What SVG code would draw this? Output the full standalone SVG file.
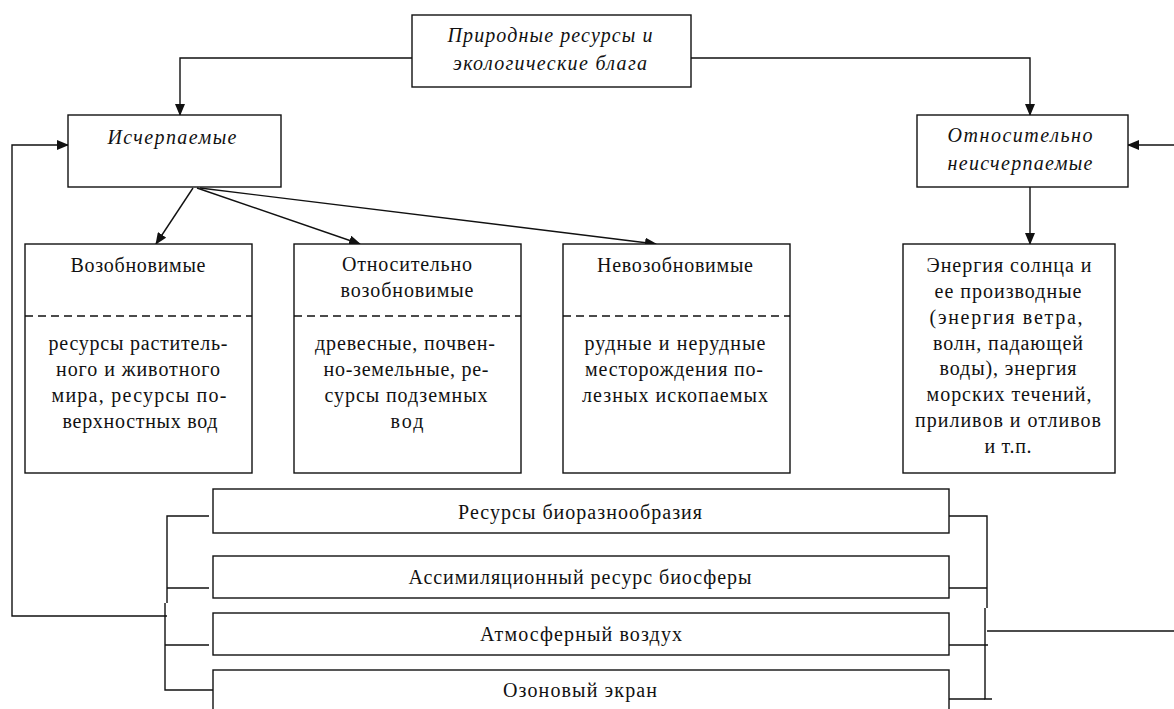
<svg xmlns="http://www.w3.org/2000/svg" width="1174" height="709" viewBox="0 0 1174 709">
<defs>
<marker id="arr" markerWidth="12" markerHeight="10" refX="11" refY="5" orient="auto" markerUnits="userSpaceOnUse">
<path d="M0,0 L12,5 L0,10 Z" fill="#111"/>
</marker>
<style>
.box{fill:#fff;stroke:#111;stroke-width:1.4}
.ln{fill:none;stroke:#111;stroke-width:1.4}
.dash{stroke:#111;stroke-width:1.5;stroke-dasharray:8 5}
.t{font-family:"Liberation Serif","DejaVu Serif",serif;font-size:20px;fill:#111;text-anchor:middle}
.i{font-style:italic}
</style>
</defs>
<rect width="1174" height="709" fill="#fff"/>

<g id="connectors">
<polyline class="ln" points="412,58 180,58 180,115" marker-end="url(#arr)"/>
<polyline class="ln" points="691,58 1030,58 1030,115" marker-end="url(#arr)"/>
<line class="ln" x1="193" y1="188" x2="156" y2="244" marker-end="url(#arr)"/>
<line class="ln" x1="197" y1="188" x2="360" y2="244" marker-end="url(#arr)"/>
<line class="ln" x1="200" y1="188" x2="656" y2="244" marker-end="url(#arr)"/>
<line class="ln" x1="1030" y1="187" x2="1030" y2="244" marker-end="url(#arr)"/>
<line class="ln" x1="1174" y1="145" x2="1128" y2="145" marker-end="url(#arr)"/>
<polyline class="ln" points="167,616 12,616 12,145 68,145" marker-end="url(#arr)"/>
<polyline class="ln" points="209,516 167,516 167,603"/>
<line class="ln" x1="167" y1="588" x2="209" y2="588"/>
<polyline class="ln" points="165,603 165,690 213,690"/>
<line class="ln" x1="165" y1="645" x2="209" y2="645"/>
<polyline class="ln" points="946,516 987,516 987,608"/>
<line class="ln" x1="946" y1="588" x2="987" y2="588"/>
<polyline class="ln" points="985,608 985,699 992,699"/>
<line class="ln" x1="946" y1="645" x2="988" y2="645"/>
<line class="ln" x1="949" y1="699" x2="985" y2="699"/>
<line class="ln" x1="987" y1="631" x2="1174" y2="631"/>
</g>

<g id="root">
<rect class="box" x="412" y="15" width="279" height="72"/>
<text class="t i" x="550" y="42" textLength="205" lengthAdjust="spacing">Природные ресурсы и</text>
<text class="t i" x="550" y="70" textLength="194" lengthAdjust="spacing">экологические блага</text>
</g>

<g id="ischerpaemye">
<rect class="box" x="68" y="115" width="213" height="72"/>
<text class="t i" x="172" y="144" textLength="129" lengthAdjust="spacing">Исчерпаемые</text>
</g>

<g id="neischerpaemye">
<rect class="box" x="917" y="115" width="211" height="72"/>
<text class="t i" x="1020" y="142" textLength="145" lengthAdjust="spacing">Относительно</text>
<text class="t i" x="1020" y="170" textLength="145" lengthAdjust="spacing">неисчерпаемые</text>
</g>

<g id="vozobnovimye">
<rect class="box" x="25" y="244" width="227" height="229"/>
<text class="t" x="138" y="272" textLength="135" lengthAdjust="spacing">Возобновимые</text>
<line class="dash" x1="25" y1="316" x2="252" y2="316"/>
<text class="t" x="138" y="350" textLength="179" lengthAdjust="spacing">ресурсы раститель-</text>
<text class="t" x="138" y="376" textLength="164" lengthAdjust="spacing">ного и животного</text>
<text class="t" x="139" y="402" textLength="175" lengthAdjust="spacing">мира, ресурсы по-</text>
<text class="t" x="140" y="428" textLength="155" lengthAdjust="spacing">верхностных вод</text>
</g>

<g id="otn-vozobnovimye">
<rect class="box" x="294" y="244" width="227" height="229"/>
<text class="t" x="407" y="271" textLength="130" lengthAdjust="spacing">Относительно</text>
<text class="t" x="407" y="297" textLength="133" lengthAdjust="spacing">возобновимые</text>
<line class="dash" x1="294" y1="316" x2="521" y2="316"/>
<text class="t" x="405" y="350" textLength="180" lengthAdjust="spacing">древесные, почвен-</text>
<text class="t" x="406" y="376" textLength="165" lengthAdjust="spacing">но-земельные, ре-</text>
<text class="t" x="406" y="402" textLength="163" lengthAdjust="spacing">сурсы подземных</text>
<text class="t" x="407" y="428" textLength="33" lengthAdjust="spacing">вод</text>
</g>

<g id="nevozobnovimye">
<rect class="box" x="563" y="244" width="227" height="229"/>
<text class="t" x="675" y="272" textLength="156" lengthAdjust="spacing">Невозобновимые</text>
<line class="dash" x1="563" y1="316" x2="790" y2="316"/>
<text class="t" x="675" y="350" textLength="181" lengthAdjust="spacing">рудные и нерудные</text>
<text class="t" x="674" y="376" textLength="178" lengthAdjust="spacing">месторождения по-</text>
<text class="t" x="675" y="402" textLength="186" lengthAdjust="spacing">лезных ископаемых</text>
</g>

<g id="energy">
<rect class="box" x="903" y="244" width="212" height="229"/>
<text class="t" x="1009" y="272" textLength="165" lengthAdjust="spacing">Энергия солнца и</text>
<text class="t" x="1008" y="298" textLength="147" lengthAdjust="spacing">ее производные</text>
<text class="t" x="1006" y="324" textLength="153" lengthAdjust="spacing">(энергия ветра,</text>
<text class="t" x="1008" y="350" textLength="150" lengthAdjust="spacing">волн, падающей</text>
<text class="t" x="1008" y="375" textLength="137" lengthAdjust="spacing">воды), энергия</text>
<text class="t" x="1009" y="401" textLength="165" lengthAdjust="spacing">морских течений,</text>
<text class="t" x="1008" y="427" textLength="186" lengthAdjust="spacing">приливов и отливов</text>
<text class="t" x="1008" y="453" textLength="47" lengthAdjust="spacing">и т.п.</text>
</g>

<g id="bioraznoobrazie">
<rect class="box" x="213" y="489" width="736" height="44"/>
<text class="t" x="580" y="519" textLength="244" lengthAdjust="spacing">Ресурсы биоразнообразия</text>
</g>

<g id="assimilyatsionny">
<rect class="box" x="213" y="556" width="736" height="42"/>
<text class="t" x="580" y="584" textLength="343" lengthAdjust="spacing">Ассимиляционный ресурс биосферы</text>
</g>

<g id="vozdukh">
<rect class="box" x="213" y="613" width="736" height="42"/>
<text class="t" x="581" y="641" textLength="202" lengthAdjust="spacing">Атмосферный воздух</text>
</g>

<g id="ozon">
<rect class="box" x="213" y="670" width="736" height="45"/>
<text class="t" x="580" y="697" textLength="154" lengthAdjust="spacing">Озоновый экран</text>
</g>
</svg>
